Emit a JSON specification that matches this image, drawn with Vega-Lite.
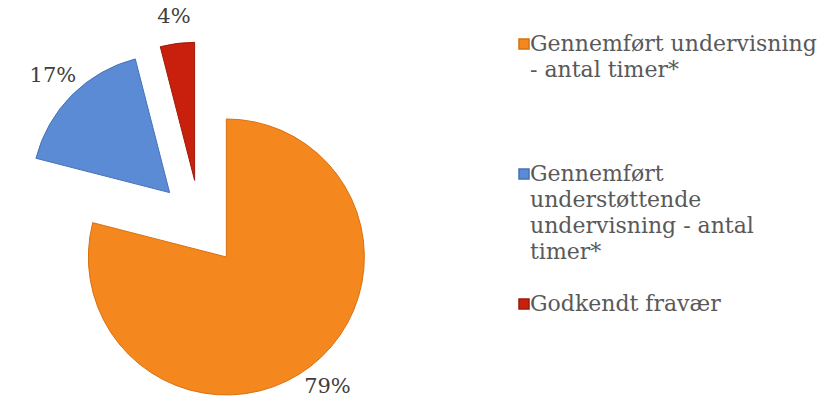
{
  "$schema": "https://vega.github.io/schema/vega-lite/v6.json",
  "autosize": {"type": "none"},
  "padding": {"left": 0, "top": 46, "right": 427, "bottom": 0},
  "width": 400,
  "height": 354,
  "background": "white",
  "config": {
    "view": {"stroke": null},
    "font": "DejaVu Serif",
    "style": {"guide-label": {"lineHeight": 26}}
  },
  "data": {
    "values": [
      {"category": "Gennemført undervisning - antal timer*", "value": 79, "label": "79%"},
      {"category": "Gennemført understøttende undervisning - antal timer*", "value": 17, "label": "17%"},
      {"category": "Godkendt fravær", "value": 4, "label": "4%"}
    ]
  },
  "encoding": {
    "theta": {"field": "value", "type": "quantitative", "stack": true},
    "order": {"field": "value", "type": "quantitative", "sort": "descending"}
  },
  "layer": [
    {
      "mark": {
        "type": "arc",
        "radius": 138,
        "strokeWidth": 1,
        "xOffset": {"expr": "43*sin(scale('theta', (datum.value_start + datum.value_end)/2))"},
        "yOffset": {"expr": "-43*cos(scale('theta', (datum.value_start + datum.value_end)/2))"}
      },
      "encoding": {
        "color": {
          "field": "category",
          "type": "nominal",
          "scale": {
            "domain": ["Gennemført undervisning - antal timer*", "Gennemført understøttende undervisning - antal timer*", "Godkendt fravær"],
            "range": ["#F5871F", "#5B8BD5", "#C8200C"]
          },
          "legend": {
            "title": null,
            "orient": "none",
            "legendX": 513,
            "legendY": -13,
            "padding": 0,
            "symbolType": "square",
            "symbolSize": 100,
            "labelFont": "DejaVu Serif",
            "labelFontSize": 22,
            "labelColor": "#595959",
            "labelOffset": -5,
            "labelLimit": 400,
            "rowPadding": 30,
            "labelExpr": "datum.label == 'Gennemført undervisning - antal timer*' ? ['Gennemført undervisning', '- antal timer*', '', ''] : datum.label == 'Gennemført understøttende undervisning - antal timer*' ? ['Gennemført', 'understøttende', 'undervisning - antal', 'timer*'] : datum.label"
          }
        },
        "stroke": {
          "field": "category",
          "type": "nominal",
          "scale": {
            "domain": ["Gennemført undervisning - antal timer*", "Gennemført understøttende undervisning - antal timer*", "Godkendt fravær"],
            "range": ["#D9700F", "#4672B5", "#9E1A08"]
          }
        }
      }
    },
    {
      "mark": {
        "type": "text",
        "radius": 165,
        "font": "DejaVu Serif",
        "fontSize": 21,
        "color": "#404040",
        "xOffset": {"expr": "43*sin(scale('theta', (datum.value_start + datum.value_end)/2))"},
        "yOffset": {"expr": "-43*cos(scale('theta', (datum.value_start + datum.value_end)/2))"}
      },
      "encoding": {
        "text": {"field": "label", "type": "nominal"}
      }
    }
  ]
}
